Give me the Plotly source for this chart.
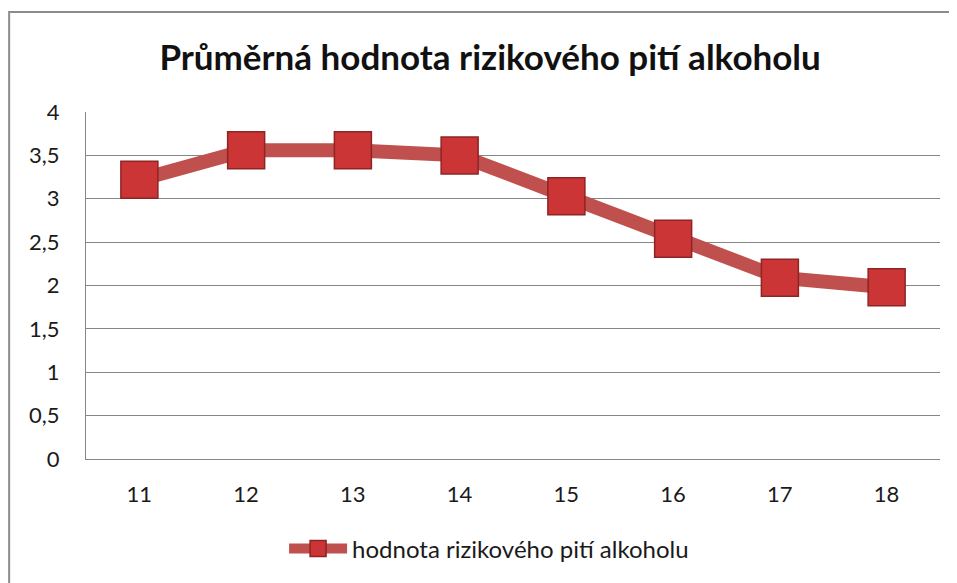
import plotly.graph_objects as go

# data
ages = ["11", "12", "13", "14", "15", "16", "17", "18"]
values = [3.22, 3.56, 3.56, 3.50, 3.03, 2.54, 2.09, 1.98]
y_ticks = [0, 0.5, 1, 1.5, 2, 2.5, 3, 3.5, 4]

series_name = "hodnota rizikového pití alkoholu"
title_text = "Průměrná hodnota rizikového pití alkoholu"

fig = go.Figure()
fig.add_trace(go.Scatter(
    x=ages,
    y=values,
    mode="lines+markers",
    name=series_name,
    line=dict(color="#C0504D", width=14),
    marker=dict(symbol="square", size=37, color="#CC3535",
                line=dict(color="#8E2424", width=1.5)),
))

# outer chart frame
fig.add_shape(type="rect", xref="paper", yref="paper",
              x0=-0.090, x1=1.2, y0=-0.6, y1=1.288,
              line=dict(color="#8C8C8C", width=2), layer="below")

# page body adds an 8px margin, so the figure is a bit smaller than the window
fig.update_layout(
    width=949, height=575,
    margin=dict(l=78, r=17, t=104, b=124),
    paper_bgcolor="white", plot_bgcolor="white",
    separators=", ",
    font=dict(family="Lato, Open Sans, sans-serif", size=22, color="#1a1a1a"),
    title=dict(text="<b>" + title_text + "</b>", x=0.508, xanchor="center",
               y=0.913, yanchor="middle", yref="container",
               font=dict(size=35, color="#111111")),
    showlegend=True,
    legend=dict(orientation="h", x=0.472, xanchor="center", y=-0.259,
                yanchor="middle", font=dict(size=24, color="#1a1a1a"),
                itemwidth=58),
    xaxis=dict(type="category", showgrid=False, showline=True,
               linecolor="#868686", linewidth=1, ticks="",
               range=[-0.5, 7.5], tickfont=dict(size=22),
               ticklabelstandoff=16),
    yaxis=dict(range=[0, 4], tickvals=y_ticks, showgrid=True,
               gridcolor="#868686", gridwidth=1, showline=True,
               linecolor="#868686", linewidth=1, zeroline=False,
               ticks="", tickfont=dict(size=22), ticklabelstandoff=21),
)

fig.write_html("out.html")
